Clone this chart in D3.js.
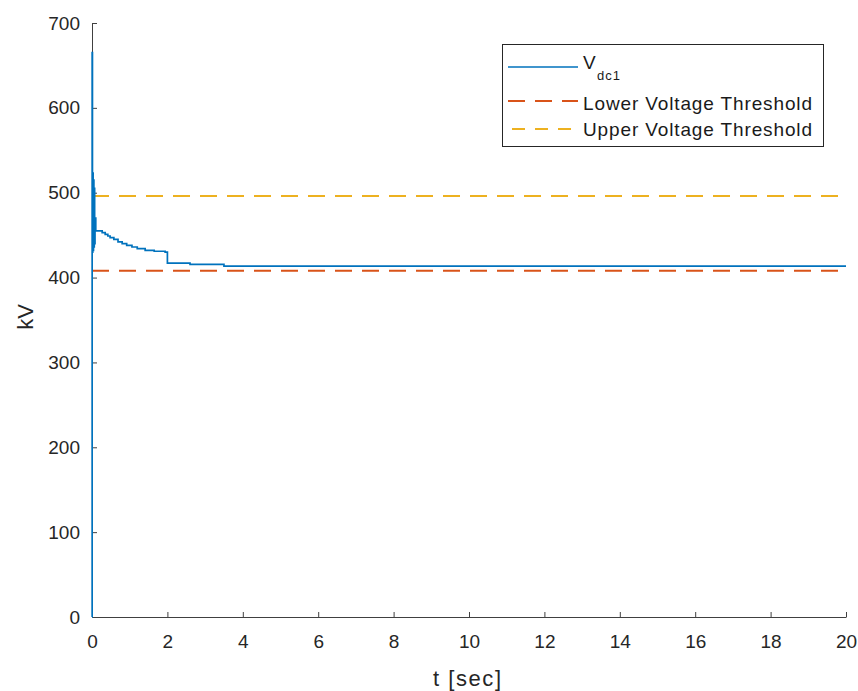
<!DOCTYPE html>
<html lang="en">
<head>
    <meta charset="UTF-8">
    <title>Vdc1</title>
    <script src="https://d3js.org/d3.v7.min.js"></script>
    <style>
        body { margin: 0; background: #fff; }
        text { font-family: "Liberation Sans", Arial, sans-serif; fill: #262626; }
        .tick-label { font-size: 19px; }
        .axis-label { font-size: 22px; }
        .legend-text { font-size: 19px; fill: #1a1a1a; }
    </style>
</head>
<body>
    <div id="chart"></div>
    <script>
        // Data
        const tValues = [0, 0.004, 0.012, 0.02, 0.03, 0.04, 0.05, 0.06, 0.07, 0.08, 0.1,
                         0.27, 0.35, 0.42, 0.48, 0.58, 0.69, 0.8, 0.92, 1.06, 1.2, 1.41,
                         1.65, 1.94, 2.0, 2.6, 3.5, 20];
        const vValues = [0, 665, 430, 523, 432, 515, 436, 505, 440, 470, 455,
                         453, 451, 449, 447, 445, 442, 440, 438, 436, 434, 432,
                         431, 430, 417, 415.5, 413.5, 413.5];
        const lowerThreshold = 408;
        const upperThreshold = 496;
        const xTicks = [0, 2, 4, 6, 8, 10, 12, 14, 16, 18, 20];
        const yTicks = [0, 100, 200, 300, 400, 500, 600, 700];

        const width = 858;
        const height = 691;
        const margin = {top: 23, right: 12, bottom: 74, left: 92};

        const svg = d3.select("#chart")
            .append("svg")
            .attr("width", width)
            .attr("height", height);

        const xScale = d3.scaleLinear()
            .domain([0, 20])
            .range([margin.left, width - margin.right]);

        const yScale = d3.scaleLinear()
            .domain([0, 700])
            .range([height - margin.bottom, margin.top]);

        const data = tValues.map((t, i) => ({t: t, v: vValues[i]}));

        // Axes first (inward ticks, no box), lines drawn over them
        const xAxis = d3.axisBottom(xScale)
            .tickValues(xTicks)
            .tickSizeInner(-5)
            .tickSizeOuter(0)
            .tickPadding(18);

        const yAxis = d3.axisLeft(yScale)
            .tickValues(yTicks)
            .tickSizeInner(-5)
            .tickSizeOuter(0)
            .tickPadding(12);

        const gx = svg.append("g")
            .attr("transform", `translate(0,${height - margin.bottom})`)
            .call(xAxis);

        const gy = svg.append("g")
            .attr("transform", `translate(${margin.left},0)`)
            .call(yAxis);

        [gx, gy].forEach(g => {
            g.select(".domain").attr("stroke", "#404040").attr("stroke-width", 1);
            g.selectAll(".tick line").attr("stroke", "#404040");
            g.selectAll(".tick text")
                .attr("class", "tick-label")
                .attr("font-family", null)
                .attr("font-size", null)
                .attr("fill", "#262626");
        });

        // Threshold lines
        svg.append("line")
            .attr("x1", xScale(0)).attr("x2", xScale(20))
            .attr("y1", yScale(upperThreshold)).attr("y2", yScale(upperThreshold))
            .attr("stroke", "#EDB120").attr("stroke-width", 2)
            .attr("stroke-dasharray", "17,10");

        svg.append("line")
            .attr("x1", xScale(0)).attr("x2", xScale(20))
            .attr("y1", yScale(lowerThreshold)).attr("y2", yScale(lowerThreshold))
            .attr("stroke", "#D95319").attr("stroke-width", 2)
            .attr("stroke-dasharray", "17,10");

        // Voltage line
        const line = d3.line()
            .x(d => xScale(d.t))
            .y(d => yScale(d.v))
            .curve(d3.curveStepAfter);

        svg.append("path")
            .datum(data)
            .attr("fill", "none")
            .attr("stroke", "#0072BD")
            .attr("stroke-width", 1.7)
            .attr("d", line);

        // Axis labels
        svg.append("text")
            .attr("class", "axis-label")
            .attr("x", 467)
            .attr("y", 686)
            .attr("text-anchor", "middle")
            .attr("textLength", 68)
            .attr("lengthAdjust", "spacing")
            .text("t [sec]");

        svg.append("text")
            .attr("class", "axis-label")
            .attr("transform", "rotate(-90)")
            .attr("x", -317)
            .attr("y", 33)
            .attr("text-anchor", "middle")
            .text("kV");

        // Legend
        const legend = svg.append("g");
        legend.append("rect")
            .attr("x", 502.5).attr("y", 44.5)
            .attr("width", 321).attr("height", 102)
            .attr("fill", "#fff")
            .attr("stroke", "#262626")
            .attr("stroke-width", 1);

        const items = [
            {color: "#0072BD", dash: null, y: 67, x1: 508},
            {color: "#D95319", dash: "17,10", y: 101, x1: 508},
            {color: "#EDB120", dash: "13,10", y: 129, x1: 512}
        ];

        items.forEach((it, i) => {
            legend.append("line")
                .attr("x1", it.x1).attr("x2", 578)
                .attr("y1", it.y).attr("y2", it.y)
                .attr("stroke", it.color)
                .attr("stroke-width", i === 0 ? 1.5 : 2.2)
                .attr("stroke-dasharray", it.dash);
        });

        legend.append("text")
            .attr("class", "legend-text")
            .attr("x", 583).attr("y", 69)
            .text("V");
        legend.append("text")
            .attr("class", "legend-text")
            .attr("x", 597).attr("y", 80)
            .attr("font-size", "13px")
            .attr("letter-spacing", "1px")
            .style("font-size", "13px")
            .text("dc1");

        legend.append("text")
            .attr("class", "legend-text")
            .attr("x", 583).attr("y", 110)
            .attr("textLength", 229)
            .attr("lengthAdjust", "spacing")
            .text("Lower Voltage Threshold");

        legend.append("text")
            .attr("class", "legend-text")
            .attr("x", 583).attr("y", 136)
            .attr("textLength", 229)
            .attr("lengthAdjust", "spacing")
            .text("Upper Voltage Threshold");
    </script>
</body>
</html>
